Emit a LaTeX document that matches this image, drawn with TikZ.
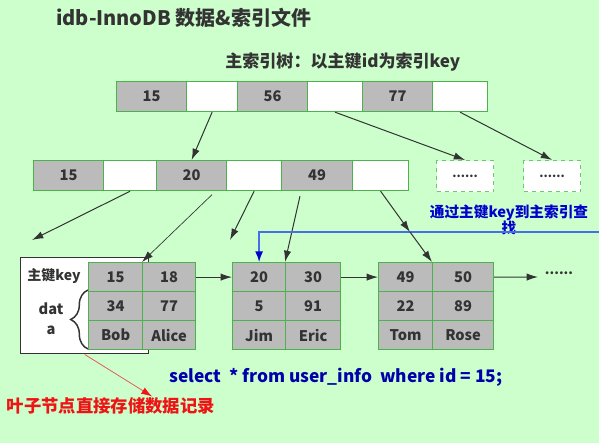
\documentclass[tikz,border=0pt]{standalone}
\usepackage{fontspec}
\setmainfont{Noto Sans CJK SC}
\usepackage{xcolor}
\usetikzlibrary{arrows.meta,decorations.pathreplacing}

\definecolor{bggreen}{RGB}{204,255,204}
\definecolor{cellgray}{RGB}{187,187,187}
\definecolor{cellline}{RGB}{76,178,76}
\definecolor{dashline}{RGB}{110,200,110}
\definecolor{inkgray}{RGB}{51,51,51}
\definecolor{tipblue}{RGB}{0,0,204}
\definecolor{lineblue}{RGB}{70,110,230}
\definecolor{sqlblue}{RGB}{0,0,170}
\definecolor{notered}{RGB}{238,20,20}
\definecolor{linered}{RGB}{230,90,90}

\tikzset{
  cell/.style={draw=cellline, line width=0.9pt, fill=cellgray, anchor=north west, inner sep=0pt,
    minimum height=30*0.75pt, text=inkgray, font=\bfseries\fontsize{11}{13}\selectfont},
  blank/.style={cell, fill=white},
  morebox/.style={cell, draw=dashline, dashed, fill=white, minimum width=57*0.75pt, minimum height=31*0.75pt},
  leafcell/.style={cell, minimum height=29*0.75pt},
  ptr/.style={draw=inkgray, line width=0.75pt, -{Latex[length=8.5pt,width=5.5pt]}},
}

\begin{document}
\begin{tikzpicture}[x=0.75pt,y=0.75pt,yscale=-1,xscale=1]
%Shape: Rectangle (background)
\fill[bggreen] (0,0) rectangle (599,443);
\useasboundingbox (0,0) rectangle (599,443);

% Text Node
\node[anchor=west, inner sep=0.75pt, text=inkgray, font=\bfseries\fontsize{15}{18}\selectfont] (title) at (55,18) {idb-InnoDB 数据\&索引文件};
% Text Node
\node[anchor=west, inner sep=0.75pt, text=inkgray, font=\bfseries\fontsize{12.8}{15}\selectfont] (treename) at (224,62) {主索引树：以主键id为索引key};

%Shape: Rectangle row (root)
\node[cell, minimum width=70*0.75pt] (top15) at (116,81) {15};
\node[blank, minimum width=51*0.75pt] (topw1) at (186,81) {};
\node[cell, minimum width=70*0.75pt] (top56) at (237,81) {56};
\node[blank, minimum width=55*0.75pt] (topw2) at (307,81) {};
\node[cell, minimum width=70*0.75pt] (top77) at (362,81) {77};
\node[blank, minimum width=55*0.75pt] (topw3) at (432,81) {};

%Shape: Rectangle row (inner)
\node[cell, minimum width=70*0.75pt] (mid15) at (33,160) {15};
\node[blank, minimum width=53*0.75pt] (midw1) at (103,160) {};
\node[cell, minimum width=70*0.75pt] (mid20) at (156,160) {20};
\node[blank, minimum width=55*0.75pt] (midw2) at (226,160) {};
\node[cell, minimum width=71*0.75pt] (mid49) at (281,160) {49};
\node[blank, minimum width=56*0.75pt] (midw3) at (352,160) {};

%Shape: dashed boxes
\node[morebox, font=\bfseries\fontsize{9}{11}\selectfont] (more1) at (436,160) {......};
\node[morebox, font=\bfseries\fontsize{9}{11}\selectfont] (more2) at (523,160) {......};

%Shape: Rectangle (leaf frame)
\node[draw=inkgray, line width=1.1pt, fill=white, anchor=north west, minimum width=128*0.75pt, minimum height=96*0.75pt] (leafbox) at (20,257) {};
% Text Node
\node[text=inkgray, font=\bfseries\fontsize{10.5}{12}\selectfont, inner sep=0.75pt] (keylabel) at (54,276) {主键key};
\node[text=inkgray, font=\bfseries\fontsize{11}{15}\selectfont, align=center, inner sep=0.75pt] (datalabel) at (51,319) {dat\\a};
\draw[inkgray, line width=1.1pt, decorate, decoration={brace, amplitude=13pt}] (88,349) -- (88,290);

%Shape: leaf 1
\node[leafcell, minimum width=54*0.75pt] (la11) at (88,262) {15};
\node[leafcell, minimum width=53*0.75pt] (la12) at (142,262) {18};
\node[leafcell, minimum width=54*0.75pt] (la21) at (88,291) {34};
\node[leafcell, minimum width=53*0.75pt] (la22) at (142,291) {77};
\node[leafcell, minimum width=54*0.75pt] (la31) at (88,320) {Bob};
\node[leafcell, minimum width=53*0.75pt] (la32) at (142,320) {Alice};

%Shape: leaf 2
\node[leafcell, minimum width=53*0.75pt] (lb11) at (232,262) {20};
\node[leafcell, minimum width=55*0.75pt] (lb12) at (285,262) {30};
\node[leafcell, minimum width=53*0.75pt] (lb21) at (232,291) {5};
\node[leafcell, minimum width=55*0.75pt] (lb22) at (285,291) {91};
\node[leafcell, minimum width=53*0.75pt] (lb31) at (232,320) {Jim};
\node[leafcell, minimum width=55*0.75pt] (lb32) at (285,320) {Eric};

%Shape: leaf 3
\node[leafcell, minimum width=54*0.75pt] (lc11) at (378,262) {49};
\node[leafcell, minimum width=61*0.75pt] (lc12) at (432,262) {50};
\node[leafcell, minimum width=54*0.75pt] (lc21) at (378,291) {22};
\node[leafcell, minimum width=61*0.75pt] (lc22) at (432,291) {89};
\node[leafcell, minimum width=54*0.75pt] (lc31) at (378,320) {Tom};
\node[leafcell, minimum width=61*0.75pt] (lc32) at (432,320) {Rose};

% Text Node
\node[text=inkgray, font=\bfseries\fontsize{10}{12}\selectfont, inner sep=0.75pt] (moreleaf) at (559,273) {......};
\node[text=tipblue, font=\bfseries\fontsize{11}{12.5}\selectfont, align=center, inner sep=0.75pt] (lookup) at (509,220) {通过主键key到主索引查\\找};
\node[anchor=west, text=sqlblue, font=\bfseries\fontsize{13}{15}\selectfont, inner sep=0.75pt] (sql) at (168,377) {select \ * from user\_info \ where id = 15;};
\node[text=notered, font=\bfseries\fontsize{13}{15}\selectfont, inner sep=0.75pt] (note) at (111,406) {叶子节点直接存储数据记录};

%Free ends
\coordinate (freel) at (32,240);
\coordinate (freem) at (230,240);
\coordinate (cross) at (410,232);
\coordinate (nextend) at (538,277);
\coordinate (edge) at (599,232);

%Straight Lines (pointers)
\draw[ptr] (topw1.south) -- (mid20.north);
\draw[ptr] (topw2.south) -- (more1.north);
\draw[ptr] (topw3.south) -- (more2.north);
\draw[ptr] (midw1.south) -- (freel);
\draw[ptr, line width=0.5pt, shorten <=5*0.75pt] ([xshift=24*0.75pt]mid20.south) -- (la12.north west);
\draw[ptr] (midw2.south) -- (freem);
\draw[ptr, shorten <=5*0.75pt] ([xshift=-16*0.75pt]mid49.south) -- (lb12.north west);

%Blue lookup line
\draw[lineblue, line width=1pt, -{Latex[length=8pt,width=6pt,color=tipblue]}] (edge) -| (lb11.north);

\draw[ptr] (midw3.south) -- (cross);
\draw[ptr] (cross) -- (lc12.north west);

%Straight Lines (leaf links)
\draw[ptr] (la12.east) -- (lb11.west);
\draw[ptr] (lb12.east) -- (lc11.west);
\draw[ptr] (lc12.east) -- (nextend);

%Red note arrow
\draw[linered, line width=0.6pt, -{Latex[length=8pt,width=5.5pt,color=notered]}] (leafbox.south) -- ([xshift=41*0.75pt]note.north);

\end{tikzpicture}
\end{document}
